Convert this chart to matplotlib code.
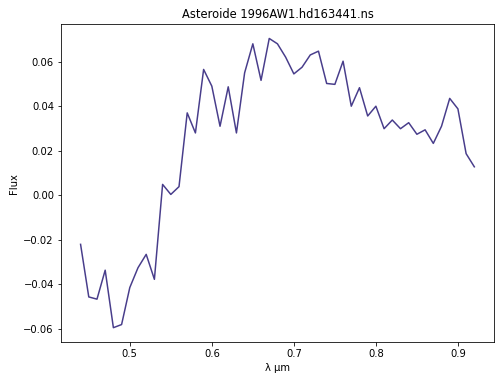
import matplotlib
matplotlib.use("Agg")
import matplotlib.pyplot as plt

# wavelength (micron) and flux
wavelength = [0.44, 0.45, 0.46, 0.47, 0.48, 0.49, 0.50, 0.51, 0.52, 0.53,
              0.54, 0.55, 0.56, 0.57, 0.58, 0.59, 0.60, 0.61, 0.62, 0.63,
              0.64, 0.65, 0.66, 0.67, 0.68, 0.69, 0.70, 0.71, 0.72, 0.73,
              0.74, 0.75, 0.76, 0.77, 0.78, 0.79, 0.80, 0.81, 0.82, 0.83,
              0.84, 0.85, 0.86, 0.87, 0.88, 0.89, 0.90, 0.91, 0.92]
flux = [-0.0220, -0.0456, -0.0466, -0.0336, -0.0594, -0.0580, -0.0414, -0.0325, -0.0265, -0.0377,
        0.0049, 0.0004, 0.0039, 0.0370, 0.0280, 0.0565, 0.0490, 0.0310, 0.0487, 0.0280,
        0.0550, 0.0680, 0.0516, 0.0704, 0.0680, 0.0620, 0.0545, 0.0575, 0.0630, 0.0647,
        0.0502, 0.0498, 0.0602, 0.0400, 0.0483, 0.0356, 0.0400, 0.0299, 0.0338, 0.0299,
        0.0326, 0.0274, 0.0294, 0.0233, 0.0310, 0.0435, 0.0388, 0.0187, 0.0128]

title = "Asteroide 1996AW1.hd163441.ns"

fig, ax = plt.subplots(figsize=(495 / 72, 381 / 72), dpi=72)
fig.subplots_adjust(left=0.123, right=0.998, top=0.937, bottom=0.102)

ax.plot(wavelength, flux, color="darkslateblue", linewidth=1.5)

ax.set_title(title, fontsize=11.5)
ax.set_xlabel("λ μm")
ax.set_ylabel("Flux")

fig.savefig("out.png", dpi=72)
